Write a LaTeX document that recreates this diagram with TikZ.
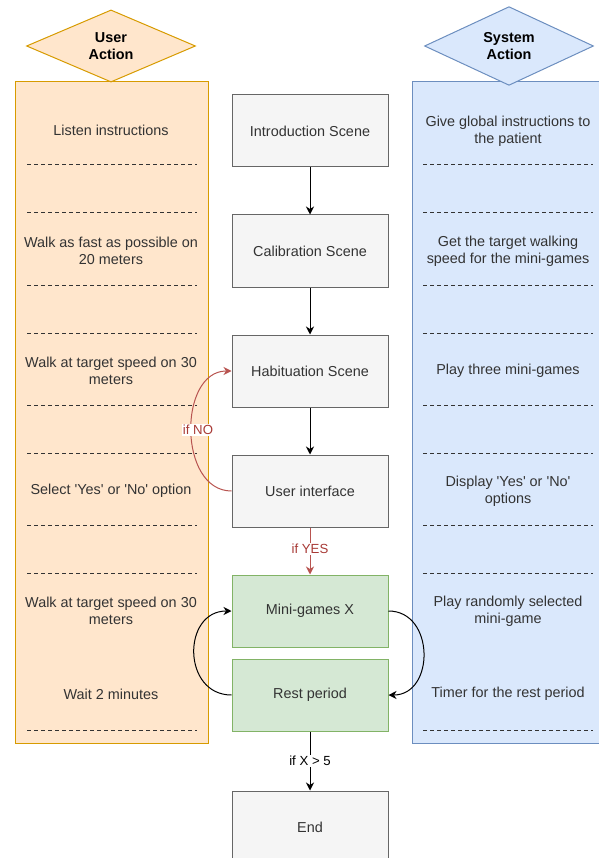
\documentclass[tikz,border=0pt]{standalone}
\usepackage{fontspec}
\setmainfont{Liberation Sans}[Ligatures=TeXOff]
\usetikzlibrary{shapes.geometric,arrows.meta}
\definecolor{orfill}{HTML}{FFE6CC}
\definecolor{ordraw}{HTML}{D79B00}
\definecolor{blfill}{HTML}{DAE8FC}
\definecolor{bldraw}{HTML}{6C8EBF}
\definecolor{grfill}{HTML}{F5F5F5}
\definecolor{grdraw}{HTML}{666666}
\definecolor{gnfill}{HTML}{D5E8D4}
\definecolor{gndraw}{HTML}{82B366}
\definecolor{txt}{HTML}{333333}
\definecolor{redl}{HTML}{B85450}
\definecolor{redt}{HTML}{A83A36}
\tikzset{
  base/.style={font=\fontsize{14.4}{17.3}\selectfont, text=txt, align=center},
  stepbox/.style={base, rectangle, draw=grdraw, fill=grfill, line width=1pt, minimum width=156, minimum height=72, inner sep=0},
  greenbox/.style={stepbox, draw=gndraw, fill=gnfill},
  lane/.style={rectangle, line width=1pt, minimum width=193, minimum height=661, inner sep=0},
  head/.style={diamond, line width=1pt, minimum width=169, minimum height=72, inner sep=0, align=center, font=\fontsize{14.4}{17.3}\selectfont\bfseries, text=black},
  lanetext/.style={base},
  sep/.style={draw=txt, line width=1pt, dash pattern=on 4pt off 3pt},
  arr/.style={line width=1pt, -{Stealth[length=8pt,width=8pt,inset=2.5pt]}},
  elabel/.style={font=\fontsize{13.2}{15}\selectfont, fill=white, inner sep=1pt},
}
\begin{document}
\begin{tikzpicture}[x=1pt,y=-1pt]
\useasboundingbox (0,0) rectangle (598,858);

% lanes
\node[lane, draw=ordraw, fill=orfill] (ulane) at (111.5,412.5) {};
\node[lane, draw=bldraw, fill=blfill, minimum width=192] (slane) at (508,412.5) {};
\node[head, draw=ordraw, fill=orfill] (uhead) at (111,46) {User\\Action};
\node[head, draw=bldraw, fill=blfill] (shead) at (509,46) {System\\Action};

% left lane texts
\node[lanetext] (u1) at (111,130) {Listen instructions};
\node[lanetext] (u2) at (111,251) {Walk as fast as possible on\\20 meters};
\node[lanetext] (u3) at (111,371) {Walk at target speed on 30\\meters};
\node[lanetext] (u4) at (111,491) {Select 'Yes' or 'No' option};
\node[lanetext] (u5) at (111,611) {Walk at target speed on 30\\meters};
\node[lanetext] (u6) at (111,694) {Wait 2 minutes};

% right lane texts
\node[lanetext] (s1) at (508,131) {Give global instructions to\\the patient};
\node[lanetext] (s2) at (508,251) {Get the target walking\\speed for the mini-games};
\node[lanetext] (s3) at (508,371) {Play three mini-games};
\node[lanetext] (s4) at (508,491) {Display 'Yes' or 'No'\\options};
\node[lanetext] (s5) at (508,611) {Play randomly selected\\mini-game};
\node[lanetext] (s6) at (508,694) {Timer for the rest period};

% separators
\foreach \yy in {165,213,285,333,405,453,525,573,730} {
  \draw[sep] (27,\yy) -- (197,\yy);
  \draw[sep] (423,\yy) -- (593,\yy);
}

% central flow
\node[stepbox] (intro) at (310,131) {Introduction Scene};
\node[stepbox] (calib) at (310,251) {Calibration Scene};
\node[stepbox] (habit) at (310,371) {Habituation Scene};
\node[stepbox] (ui) at (310,491) {User interface};
\node[greenbox] (mini) at (310,611) {Mini-games X};
\node[greenbox] (rest) at (310,695) {Rest period};
\node[stepbox] (end) at (310,827) {End};

\draw[arr] (intro) -- (calib);
\draw[arr] (calib) -- (habit);
\draw[arr] (habit) -- (ui);
\draw[arr, draw=redl] (ui) -- node[elabel, text=redt, pos=0.45] {if YES} (mini);
\draw[arr, draw=redl] (ui.west) .. controls (178,491) and (178,371) .. (habit.west);
\node[elabel, text=redt] (ifno) at (198,430) {if NO};
\draw[arr] (rest.west) .. controls (182,695) and (182,611) .. (mini.west);
\draw[arr] (mini.east) .. controls (435,611) and (435,695) .. (rest.east);
\draw[arr] (rest) -- node[elabel, text=black, pos=0.5] {if X > 5} (end);
\end{tikzpicture}
\end{document}
